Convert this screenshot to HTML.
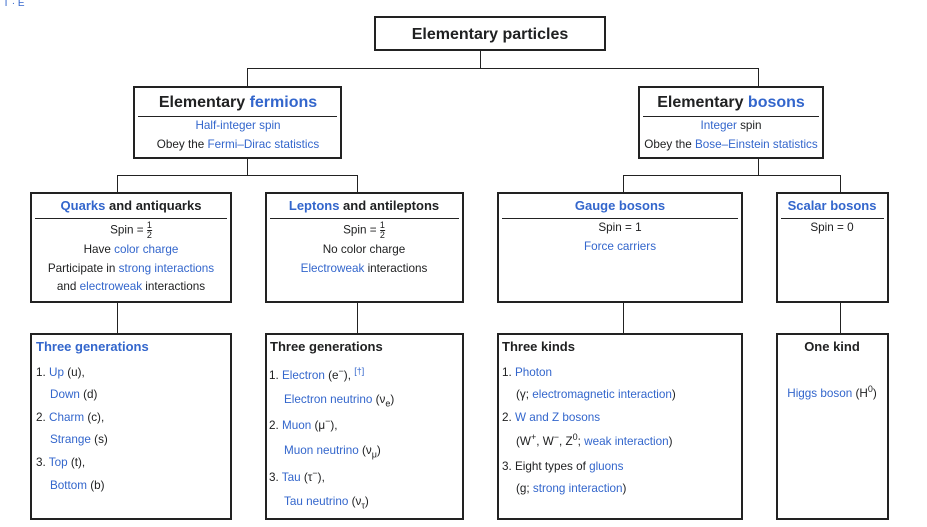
<!DOCTYPE html>
<html><head><meta charset="utf-8"><style>
body{margin:0;width:927px;height:527px;background:#fff;font-family:"Liberation Sans",Arial,sans-serif;color:#202122;position:relative;overflow:hidden}
.b{position:absolute;border:2px solid #222;box-sizing:border-box;background:#fff}
.l{position:absolute;background:#222}
.t{position:absolute;white-space:nowrap;font-size:11.7px;line-height:14px}
.c{transform:translateX(-50%)}
a{color:#3366cc;text-decoration:none}
.h{font-weight:bold;font-size:13px}
.H{font-weight:bold;font-size:16px;line-height:18px}
.sep{position:absolute;height:1px;background:#222}
sup,sub{font-size:9px;line-height:0}
.fr{display:inline-block;vertical-align:middle;text-align:center;font-size:9px;line-height:9px}
.fr span{display:block}
</style></head><body>
<div class="t" style="left:3px;top:-3px;font-size:10px;color:#3366cc">T · E</div>
<div class="l" style="left:480px;top:50px;width:1px;height:18px"></div>
<div class="l" style="left:247px;top:68px;width:512px;height:1px"></div>
<div class="l" style="left:247px;top:68px;width:1px;height:19px"></div>
<div class="l" style="left:758px;top:68px;width:1px;height:19px"></div>
<div class="l" style="left:247px;top:157px;width:1px;height:18px"></div>
<div class="l" style="left:117px;top:175px;width:241px;height:1px"></div>
<div class="l" style="left:117px;top:175px;width:1px;height:18px"></div>
<div class="l" style="left:357px;top:175px;width:1px;height:18px"></div>
<div class="l" style="left:758px;top:157px;width:1px;height:18px"></div>
<div class="l" style="left:623px;top:175px;width:218px;height:1px"></div>
<div class="l" style="left:623px;top:175px;width:1px;height:18px"></div>
<div class="l" style="left:840px;top:175px;width:1px;height:18px"></div>
<div class="l" style="left:117px;top:301px;width:1px;height:33px"></div>
<div class="l" style="left:357px;top:301px;width:1px;height:33px"></div>
<div class="l" style="left:623px;top:301px;width:1px;height:33px"></div>
<div class="l" style="left:840px;top:301px;width:1px;height:33px"></div>

<div class="b" style="left:374px;top:16px;width:232px;height:35px"></div>
<div class="t H c" style="left:490px;top:26px">Elementary particles</div>

<div class="b" style="left:133px;top:86px;width:209px;height:73px"></div>
<div class="t H c" style="left:238px;top:94px">Elementary <a>fermions</a></div>
<div class="sep" style="left:138px;top:116px;width:199px"></div>
<div class="t c" style="left:238px;top:119px"><a>Half-integer spin</a></div>
<div class="t c" style="left:238px;top:138px">Obey the <a>Fermi–Dirac statistics</a></div>

<div class="b" style="left:638px;top:86px;width:186px;height:73px"></div>
<div class="t H c" style="left:731px;top:94px">Elementary <a>bosons</a></div>
<div class="sep" style="left:643px;top:116px;width:176px"></div>
<div class="t c" style="left:731px;top:119px"><a>Integer</a> spin</div>
<div class="t c" style="left:731px;top:138px">Obey the <a>Bose–Einstein statistics</a></div>

<div class="b" style="left:30px;top:192px;width:202px;height:111px"></div>
<div class="t h c" style="left:131px;top:199px"><a>Quarks</a> and antiquarks</div>
<div class="sep" style="left:35px;top:218px;width:192px"></div>
<div class="t c" style="left:131px;top:221px">Spin = <span class="fr"><span style="border-bottom:1px solid #222">1</span><span>2</span></span></div>
<div class="t c" style="left:131px;top:243px">Have <a>color charge</a></div>
<div class="t c" style="left:131px;top:262px">Participate in <a>strong interactions</a></div>
<div class="t c" style="left:131px;top:280px">and <a>electroweak</a> interactions</div>

<div class="b" style="left:265px;top:192px;width:199px;height:111px"></div>
<div class="t h c" style="left:364px;top:199px"><a>Leptons</a> and antileptons</div>
<div class="sep" style="left:270px;top:218px;width:189px"></div>
<div class="t c" style="left:364px;top:221px">Spin = <span class="fr"><span style="border-bottom:1px solid #222">1</span><span>2</span></span></div>
<div class="t c" style="left:364px;top:243px">No color charge</div>
<div class="t c" style="left:364px;top:262px"><a>Electroweak</a> interactions</div>

<div class="b" style="left:497px;top:192px;width:246px;height:111px"></div>
<div class="t h c" style="left:620px;top:199px"><a>Gauge bosons</a></div>
<div class="sep" style="left:502px;top:218px;width:236px"></div>
<div class="t c" style="left:620px;top:221px">Spin = 1</div>
<div class="t c" style="left:620px;top:240px"><a>Force carriers</a></div>

<div class="b" style="left:776px;top:192px;width:113px;height:111px"></div>
<div class="t h c" style="left:832px;top:199px"><a>Scalar bosons</a></div>
<div class="sep" style="left:781px;top:218px;width:103px"></div>
<div class="t c" style="left:832px;top:221px">Spin = 0</div>

<div class="b" style="left:30px;top:333px;width:202px;height:187px"></div>
<div class="t h" style="left:36px;top:340px"><a>Three generations</a></div>
<div class="t" style="left:36px;top:366px">1. <a>Up</a> (u),</div>
<div class="t" style="left:50px;top:388px"><a>Down</a> (d)</div>
<div class="t" style="left:36px;top:411px">2. <a>Charm</a> (c),</div>
<div class="t" style="left:50px;top:433px"><a>Strange</a> (s)</div>
<div class="t" style="left:36px;top:456px">3. <a>Top</a> (t),</div>
<div class="t" style="left:50px;top:479px"><a>Bottom</a> (b)</div>

<div class="b" style="left:265px;top:333px;width:199px;height:187px"></div>
<div class="t h" style="left:270px;top:340px">Three generations</div>
<div class="t" style="left:269px;top:369px">1. <a>Electron</a> (e<sup>−</sup>), <sup><a>[†]</a></sup></div>
<div class="t" style="left:284px;top:393px"><a>Electron neutrino</a> (ν<sub>e</sub>)</div>
<div class="t" style="left:269px;top:419px">2. <a>Muon</a> (μ<sup>−</sup>),</div>
<div class="t" style="left:284px;top:444px"><a>Muon neutrino</a> (ν<sub>μ</sub>)</div>
<div class="t" style="left:269px;top:471px">3. <a>Tau</a> (τ<sup>−</sup>),</div>
<div class="t" style="left:284px;top:495px"><a>Tau neutrino</a> (ν<sub>τ</sub>)</div>

<div class="b" style="left:497px;top:333px;width:246px;height:187px"></div>
<div class="t h" style="left:502px;top:340px">Three kinds</div>
<div class="t" style="left:502px;top:366px">1. <a>Photon</a></div>
<div class="t" style="left:516px;top:388px">(γ; <a>electromagnetic interaction</a>)</div>
<div class="t" style="left:502px;top:411px">2. <a>W and Z bosons</a></div>
<div class="t" style="left:516px;top:435px">(W<sup>+</sup>, W<sup>−</sup>, Z<sup>0</sup>; <a>weak interaction</a>)</div>
<div class="t" style="left:502px;top:460px">3. Eight types of <a>gluons</a></div>
<div class="t" style="left:516px;top:482px">(g; <a>strong interaction</a>)</div>

<div class="b" style="left:776px;top:333px;width:113px;height:187px"></div>
<div class="t h c" style="left:832px;top:340px">One kind</div>
<div class="t c" style="left:832px;top:387px"><a>Higgs boson</a> (H<sup>0</sup>)</div>
</body></html>
